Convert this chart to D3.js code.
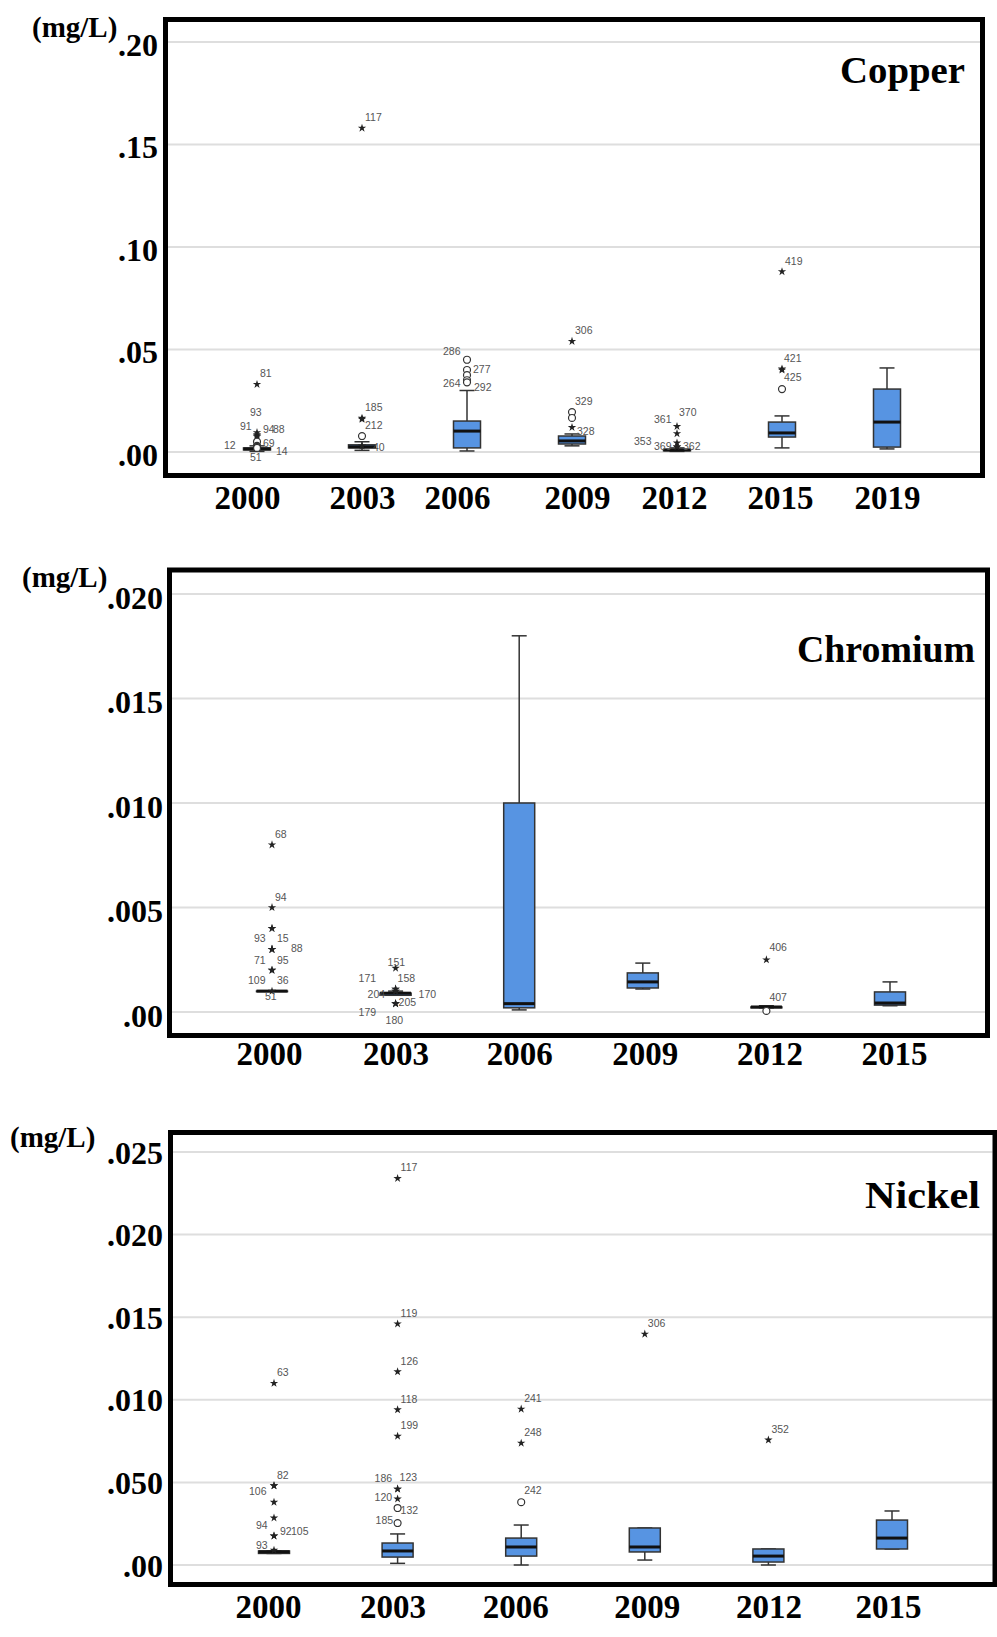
<!DOCTYPE html>
<html>
<head>
<meta charset="utf-8">
<script src="https://cdn.jsdelivr.net/npm/d3@7"></script>
<style>
  html, body { margin: 0; padding: 0; background: #fff; }
  svg { display: block; }
</style>
</head>
<body>
<svg id="chart" width="997" height="1637"></svg>
<script>
// ---------- Copper ----------
const copperYears = ["2000", "2003", "2006", "2009", "2012", "2015", "2019"];
const copperLow  = [0.0003, 0.0008, 0.0005, 0.0030, 0.0003, 0.0020, 0.0015];
const copperQ1   = [0.0010, 0.0020, 0.0020, 0.0039, 0.0006, 0.0073, 0.0024];
const copperMed  = [0.0015, 0.0025, 0.0102, 0.0054, 0.0010, 0.0093, 0.0146];
const copperQ3   = [0.0020, 0.0035, 0.0151, 0.0078, 0.0012, 0.0146, 0.0307];
const copperHigh = [0.0030, 0.0050, 0.0300, 0.0088, 0.0020, 0.0176, 0.0410];
const copperTicks = [0, 0.05, 0.10, 0.15, 0.20];
const copperTickLabels = [".00", ".05", ".10", ".15", ".20"];
// [year, value, marker, case number]
const copperOutliers = [
  ["2000", 0.0330, "star", "81"],
  ["2000", 0.0095, "star", "93"],
  ["2000", 0.0085, "star", "91"],
  ["2000", 0.0080, "star", "94"],
  ["2000", 0.0075, "star", "88"],
  ["2000", 0.0050, "circle", "69"],
  ["2000", 0.0030, "circle", "12"],
  ["2000", 0.0025, "circle", "14"],
  ["2000", 0.0020, "circle", "51"],
  ["2003", 0.1580, "star", "117"],
  ["2003", 0.0165, "star", "185"],
  ["2003", 0.0160, "star", "212"],
  ["2003", 0.0078, "circle", ""],
  ["2003", 0.0030, "star", "40"],
  ["2006", 0.0450, "circle", "286"],
  ["2006", 0.0400, "circle", "277"],
  ["2006", 0.0375, "circle", ""],
  ["2006", 0.0350, "circle", "264"],
  ["2006", 0.0340, "circle", "292"],
  ["2009", 0.0540, "star", "306"],
  ["2009", 0.0195, "circle", "329"],
  ["2009", 0.0166, "circle", ""],
  ["2009", 0.0120, "star", "328"],
  ["2012", 0.0125, "star", "370"],
  ["2012", 0.0090, "star", "361"],
  ["2012", 0.0044, "star", "353"],
  ["2012", 0.0025, "star", "369"],
  ["2012", 0.0025, "star", "362"],
  ["2015", 0.0880, "star", "419"],
  ["2015", 0.0405, "star", "421"],
  ["2015", 0.0400, "star", "425"],
  ["2015", 0.0307, "circle", ""]
];

// ---------- Chromium ----------
const chromiumYears = ["2000", "2003", "2006", "2009", "2012", "2015"];
const chromiumLow  = [0.0010, 0.0008, 0.0001, 0.00110, 0.00020, 0.00030];
const chromiumQ1   = [0.0010, 0.0008, 0.0002, 0.00115, 0.00020, 0.00033];
const chromiumMed  = [0.0010, 0.0009, 0.0004, 0.00144, 0.00024, 0.00043];
const chromiumQ3   = [0.0010, 0.0009, 0.0100, 0.00187, 0.00024, 0.00096];
const chromiumHigh = [0.0010, 0.0010, 0.0180, 0.00234, 0.00030, 0.00144];
const chromiumTicks = [0, 0.005, 0.010, 0.015, 0.020];
const chromiumTickLabels = [".00", ".005", ".010", ".015", ".020"];
const chromiumOutliers = [
  ["2000", 0.0080, "star", "68"],
  ["2000", 0.0050, "star", "94"],
  ["2000", 0.0040, "star", "93"],
  ["2000", 0.0040, "star", "15"],
  ["2000", 0.0030, "star", "88"],
  ["2000", 0.0030, "star", "71"],
  ["2000", 0.0030, "star", "95"],
  ["2000", 0.0020, "star", "109"],
  ["2000", 0.0020, "star", "36"],
  ["2000", 0.0010, "star", "51"],
  ["2003", 0.0021, "star", "151"],
  ["2003", 0.0011, "star", "171"],
  ["2003", 0.0011, "star", "158"],
  ["2003", 0.0010, "star", "204"],
  ["2003", 0.0010, "star", "170"],
  ["2003", 0.0004, "star", "205"],
  ["2003", 0.0004, "star", "179"],
  ["2003", 0.0004, "star", "180"],
  ["2012", 0.0025, "star", "406"],
  ["2012", 0.00005, "circle", "407"]
];

// ---------- Nickel ----------
const nickelYears = ["2000", "2003", "2006", "2009", "2012", "2015"];
const nickelLow  = [0.00070, 0.00010, 0.00000, 0.00030, 0.00000, 0.00097];
const nickelQ1   = [0.00070, 0.00048, 0.00054, 0.00079, 0.00018, 0.00097];
const nickelMed  = [0.00080, 0.00085, 0.00109, 0.00109, 0.00054, 0.00163];
const nickelQ3   = [0.00085, 0.00133, 0.00163, 0.00224, 0.00097, 0.00272];
const nickelHigh = [0.00085, 0.00188, 0.00242, 0.00224, 0.00097, 0.00327];
const nickelTicks = [0, 0.005, 0.010, 0.015, 0.020, 0.025];
const nickelTickLabels = [".00", ".050", ".010", ".015", ".020", ".025"];
const nickelOutliers = [
  ["2000", 0.0110, "star", "63"],
  ["2000", 0.0048, "star", "82"],
  ["2000", 0.0048, "star", "106"],
  ["2000", 0.0038, "star", ""],
  ["2000", 0.00285, "star", "94"],
  ["2000", 0.00176, "star", "92"],
  ["2000", 0.00176, "star", "105"],
  ["2000", 0.0009, "star", "93"],
  ["2003", 0.0234, "star", "117"],
  ["2003", 0.0146, "star", "119"],
  ["2003", 0.0117, "star", "126"],
  ["2003", 0.0094, "star", "118"],
  ["2003", 0.0078, "star", "199"],
  ["2003", 0.0046, "star", "123"],
  ["2003", 0.0046, "star", "186"],
  ["2003", 0.0040, "star", "120"],
  ["2003", 0.00345, "circle", "132"],
  ["2003", 0.00254, "circle", "185"],
  ["2006", 0.00944, "star", "241"],
  ["2006", 0.00738, "star", "248"],
  ["2006", 0.0038, "circle", "242"],
  ["2009", 0.01398, "star", "306"],
  ["2012", 0.00757, "star", "352"]
];

// label nudges (px from the marker) where the case number is not upper-right
const copperNudge = {
  "93": [-7, -17], "91": [-17, -5], "94": [6, -3], "88": [16, -4], "69": [6, 5],
  "12": [-33, 3], "14": [19, 8], "51": [-7, 13], "212": [3, 10], "40": [11, 5],
  "286": [-24, -5], "277": [6, 3], "264": [-24, 7], "292": [7, 9], "328": [5, 8],
  "370": [2, -10], "361": [-23, -11], "353": [-43, 2], "369": [-23, 3], "362": [6, 3],
  "421": [2, -7], "425": [2, 11]
};
const chromiumNudge = {
  "93": [-18, 14], "15": [5, 14], "88": [19, 3], "71": [-18, 15], "95": [5, 15],
  "109": [-24, 14], "36": [5, 14], "51": [-7, 9], "151": [-8, -2], "171": [-37, -7],
  "158": [2, -7], "204": [-28, 7], "170": [23, 7], "205": [3, 2], "179": [-37, 12],
  "180": [-10, 20], "406": [3, -9], "407": [3, -10]
};
const nickelNudge = {
  "106": [-25, 9], "94": [-18, 11], "92": [6, -1], "105": [17, -1], "93": [-18, -1],
  "123": [2, -8], "186": [-23, -7], "120": [-23, 2], "132": [3, 6], "185": [-22, 1],
  "242": [3, -8]
};
// year labels are not exactly under their boxes in the original figure
const copperYearShift = [-10, 0, -10, 5, -3, -2, 0];
const chromiumYearShift = [-3, 0, 0, 2, 3, 4];
const nickelYearShift = [-6, -5, -6, 2, 0, -4];

const svg = d3.select("#chart");
const serif = "'Liberation Serif', 'Times New Roman', serif";
const boxBlue = "#5794e2";

function drawPanel(p) {
  const g = svg.append("g");
  const x = d3.scalePoint().domain(p.years).range(p.xRange);
  const y = d3.scaleLinear().domain(p.yDomain).range(p.yRange);
  const f = p.frame;
  const inL = f.x + 2.5, inR = f.x + f.w - 2.5;

  // gridlines
  g.append("g").selectAll("line").data(p.ticks).join("line")
    .attr("x1", inL).attr("x2", inR)
    .attr("y1", d => y(d)).attr("y2", d => y(d))
    .attr("stroke", "#dedede").attr("stroke-width", 2);

  const boxes = p.years.map((yr, i) => ({
    yr, lo: p.low[i], q1: p.q1[i], med: p.med[i], q3: p.q3[i], hi: p.high[i]
  }));
  const bw = p.boxW, cw = 15;
  const bg = g.append("g").selectAll("g").data(boxes).join("g")
    .attr("transform", d => `translate(${x(d.yr)},0)`);

  // whiskers + caps
  bg.append("line").attr("y1", d => y(d.hi)).attr("y2", d => y(d.q3))
    .attr("stroke", "#333").attr("stroke-width", 1.5);
  bg.append("line").attr("y1", d => y(d.q1)).attr("y2", d => y(d.lo))
    .attr("stroke", "#333").attr("stroke-width", 1.5);
  bg.append("line").attr("x1", -cw / 2).attr("x2", cw / 2)
    .attr("y1", d => y(d.hi)).attr("y2", d => y(d.hi))
    .attr("stroke", "#333").attr("stroke-width", 1.5);
  bg.append("line").attr("x1", -cw / 2).attr("x2", cw / 2)
    .attr("y1", d => y(d.lo)).attr("y2", d => y(d.lo))
    .attr("stroke", "#333").attr("stroke-width", 1.5);

  // box
  bg.append("rect")
    .attr("x", -bw / 2).attr("width", bw)
    .attr("y", d => y(d.q3))
    .attr("height", d => Math.max(y(d.q1) - y(d.q3), 0.5))
    .attr("fill", boxBlue).attr("stroke", "#333").attr("stroke-width", 1.5);
  // median
  bg.append("line").attr("x1", -bw / 2).attr("x2", bw / 2)
    .attr("y1", d => y(d.med)).attr("y2", d => y(d.med))
    .attr("stroke", "#111").attr("stroke-width", 3);

  // outliers
  const star = d3.symbol(d3.symbolStar, 22);
  const circ = d3.symbol(d3.symbolCircle, 38);
  const og = g.append("g");
  og.selectAll("path").data(p.outliers).join("path")
    .attr("transform", d => `translate(${x(d[0])},${y(d[1])})`)
    .attr("d", d => d[2] === "star" ? star() : circ())
    .attr("fill", d => d[2] === "star" ? "#222" : "#fff")
    .attr("stroke", d => d[2] === "star" ? "none" : "#333")
    .attr("stroke-width", 1.2);
  og.selectAll("text").data(p.outliers.filter(d => d[3] !== "")).join("text")
    .attr("x", d => x(d[0]) + (p.nudge[d[3]] || [3, -7])[0])
    .attr("y", d => y(d[1]) + (p.nudge[d[3]] || [3, -7])[1])
    .attr("font-family", "'Liberation Sans', Arial, sans-serif")
    .attr("font-size", 10.5).attr("fill", "#555")
    .text(d => d[3]);

  // frame
  g.append("rect")
    .attr("x", f.x).attr("y", f.y).attr("width", f.w).attr("height", f.h)
    .attr("fill", "none").attr("stroke", "#000").attr("stroke-width", 5);

  // y axis
  const ya = g.append("g")
    .attr("transform", `translate(${f.x - 2.5},0)`)
    .call(d3.axisLeft(y).tickValues(p.ticks)
      .tickFormat((d, i) => p.tickLabels[i]).tickSize(0).tickPadding(p.tickPad));
  ya.select(".domain").remove();
  ya.selectAll("text")
    .attr("dy", null).attr("y", p.tickDy)
    .attr("font-family", serif).attr("font-weight", "bold")
    .attr("font-size", 32).attr("fill", "#000");

  // x axis
  const xa = g.append("g")
    .attr("transform", `translate(0,${f.y + f.h + 2.5})`)
    .call(d3.axisBottom(x).tickSize(0));
  xa.select(".domain").remove();
  xa.selectAll("text")
    .attr("dy", null).attr("y", p.xLabelY)
    .attr("x", (d, i) => p.yearShift[i])
    .attr("font-family", serif).attr("font-weight", "bold")
    .attr("font-size", 33).attr("fill", "#000");

  // unit + title
  g.append("text").attr("x", p.unit[0]).attr("y", p.unit[1])
    .attr("font-family", serif).attr("font-weight", "bold").attr("font-size", 29)
    .text("(mg/L)");
  g.append("text").attr("x", p.title[0]).attr("y", p.title[1])
    .attr("text-anchor", "end")
    .attr("font-family", serif).attr("font-weight", "bold").attr("font-size", 38)
    .attr("textLength", p.title[2]).attr("lengthAdjust", "spacingAndGlyphs")
    .text(p.name);
}

drawPanel({
  name: "Copper", years: copperYears,
  low: copperLow, q1: copperQ1, med: copperMed, q3: copperQ3, high: copperHigh,
  ticks: copperTicks, tickLabels: copperTickLabels,
  outliers: copperOutliers, nudge: copperNudge, yearShift: copperYearShift,
  frame: { x: 165.5, y: 19.5, w: 817, h: 456 },
  xRange: [257, 887], yDomain: [0, 0.20], yRange: [452, 42],
  boxW: 27, tickPad: 5, tickDy: 13, xLabelY: 31,
  unit: [32, 37], title: [965, 83, 125]
});

drawPanel({
  name: "Chromium", years: chromiumYears,
  low: chromiumLow, q1: chromiumQ1, med: chromiumMed, q3: chromiumQ3, high: chromiumHigh,
  ticks: chromiumTicks, tickLabels: chromiumTickLabels,
  outliers: chromiumOutliers, nudge: chromiumNudge, yearShift: chromiumYearShift,
  frame: { x: 169.5, y: 570, w: 818, h: 465.5 },
  xRange: [272, 890], yDomain: [0, 0.020], yRange: [1012, 594],
  boxW: 31, tickPad: 4, tickDy: 14, xLabelY: 27,
  unit: [22, 587], title: [975, 662, 178]
});

drawPanel({
  name: "Nickel", years: nickelYears,
  low: nickelLow, q1: nickelQ1, med: nickelMed, q3: nickelQ3, high: nickelHigh,
  ticks: nickelTicks, tickLabels: nickelTickLabels,
  outliers: nickelOutliers, nudge: nickelNudge, yearShift: nickelYearShift,
  frame: { x: 170.5, y: 1132.5, w: 824.5, h: 452 },
  xRange: [274, 892], yDomain: [0, 0.025], yRange: [1565, 1152],
  boxW: 31, tickPad: 5, tickDy: 11, xLabelY: 31,
  unit: [10, 1147], title: [980, 1208, 115]
});
</script>
</body>
</html>
